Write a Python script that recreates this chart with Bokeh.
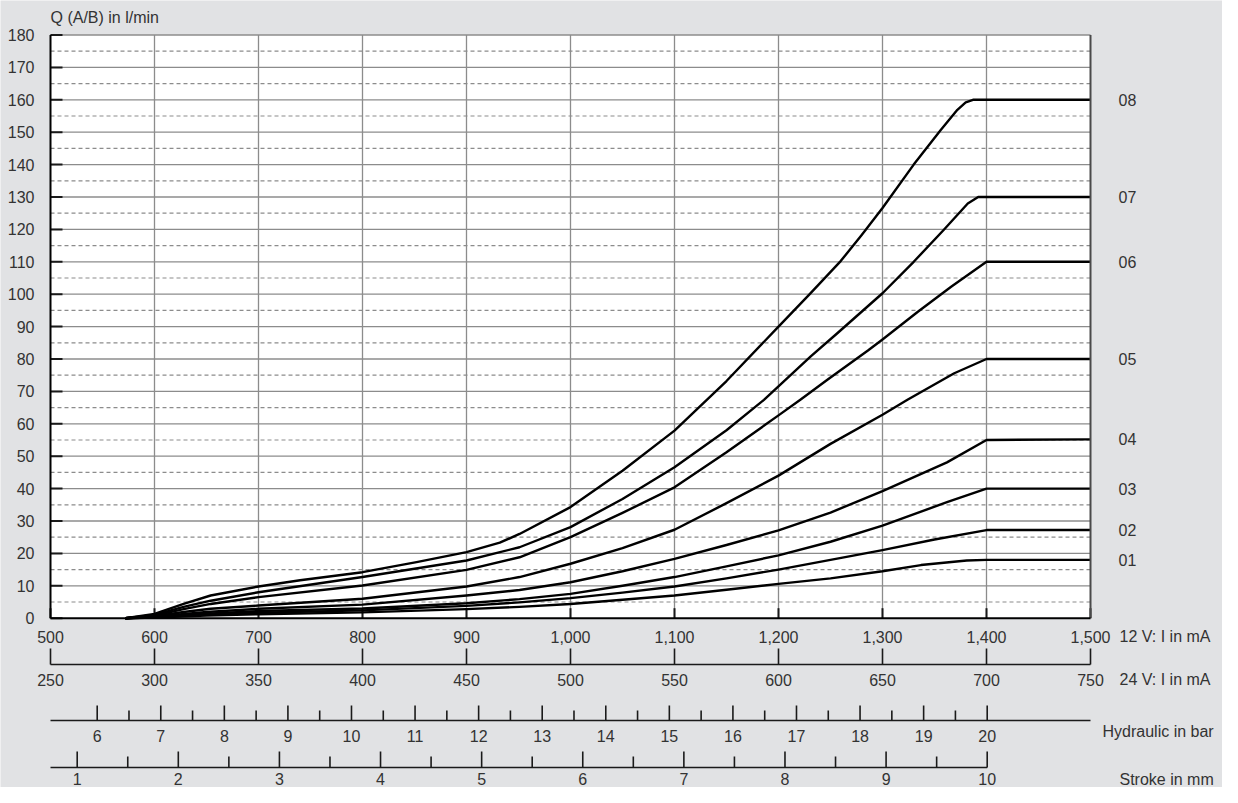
from bokeh.plotting import figure
from bokeh.models import Range1d
from bokeh.core.properties import value
from bokeh.embed import file_html
from bokeh.resources import INLINE

# ---------------- data ----------------
# x: coil current at 12 V in mA, y: flow Q (A/B) in l/min
I_08 = [572, 600, 628, 654, 700, 740, 800, 852, 900, 932, 951, 1000, 1050, 1100, 1150, 1200, 1230, 1260, 1280, 1300, 1330, 1356, 1372, 1380, 1387, 1500]
Q_08 = [0, 1.3, 4.4, 7.0, 9.8, 11.7, 14.2, 17.3, 20.4, 23.3, 26.0, 34.3, 45.5, 57.9, 73.2, 90.0, 100.0, 110.3, 118.3, 126.6, 140.0, 150.7, 156.9, 159.2, 160, 160]

I_07 = [572, 600, 628, 654, 700, 800, 900, 951, 1000, 1050, 1100, 1150, 1186, 1231, 1256, 1300, 1330, 1359, 1382, 1392, 1500]
Q_07 = [0, 1.0, 3.5, 5.4, 8.0, 12.7, 17.8, 21.9, 28.1, 36.8, 46.6, 58.0, 67.4, 80.8, 87.8, 100.3, 110.0, 119.9, 128.0, 130.0, 130]

I_06 = [572, 600, 628, 654, 700, 800, 900, 951, 1000, 1050, 1100, 1150, 1200, 1221, 1247, 1286, 1300, 1334, 1366, 1400, 1500]
Q_06 = [0, 0.8, 2.8, 4.4, 6.5, 10.1, 14.9, 18.8, 25.0, 32.5, 40.4, 51.2, 62.6, 67.4, 73.6, 82.6, 86.0, 94.6, 102.3, 110.0, 110]

I_05 = [572, 600, 628, 654, 700, 800, 900, 951, 1000, 1050, 1100, 1150, 1200, 1250, 1300, 1324, 1369, 1400, 1500]
Q_05 = [0, 0.6, 1.9, 2.9, 3.9, 6.0, 9.8, 12.7, 16.8, 21.6, 27.3, 35.5, 44.0, 53.8, 62.8, 67.4, 75.6, 80.0, 80]

I_04 = [572, 600, 650, 700, 800, 900, 951, 1000, 1050, 1100, 1150, 1200, 1250, 1300, 1362, 1400, 1500]
Q_04 = [0, 0.5, 1.9, 2.9, 4.2, 7.0, 8.7, 11.1, 14.5, 18.3, 22.6, 27.1, 32.6, 39.2, 48.1, 55.0, 55.2]

I_03 = [572, 600, 650, 700, 800, 900, 951, 1000, 1050, 1100, 1150, 1200, 1250, 1300, 1362, 1400, 1500]
Q_03 = [0, 0.4, 1.4, 2.2, 3.0, 4.6, 5.9, 7.5, 10.0, 12.7, 16.0, 19.4, 23.6, 28.6, 35.8, 40.0, 40.0]

I_02 = [572, 600, 650, 700, 800, 900, 951, 1000, 1050, 1100, 1150, 1200, 1250, 1300, 1350, 1400, 1500]
Q_02 = [0, 0.3, 1.1, 1.7, 2.4, 3.8, 4.9, 6.2, 7.9, 9.8, 12.3, 15.0, 18.0, 21.0, 24.3, 27.2, 27.2]

I_01 = [572, 600, 650, 700, 800, 900, 951, 1000, 1050, 1100, 1150, 1200, 1250, 1300, 1337, 1381, 1400, 1500]
Q_01 = [0, 0.2, 0.8, 1.2, 1.8, 2.8, 3.5, 4.4, 5.7, 7.0, 8.8, 10.6, 12.3, 14.5, 16.4, 17.8, 18.0, 18.0]

SERIES_NAMES = ["08", "07", "06", "05", "04", "03", "02", "01"]

Y_TICKS = list(range(0, 181, 10))           # Q in l/min
Y_DASH = list(range(5, 180, 10))            # dashed half lines
X12_TICKS = list(range(500, 1501, 100))     # 12 V: I in mA
X24_TICKS = list(range(250, 751, 50))       # 24 V: I in mA
BAR_MAJOR = list(range(6, 21))              # hydraulic in bar
BAR_MINOR = [b + 0.5 for b in range(6, 20)]
STROKE_MAJOR = list(range(1, 11))           # stroke in mm
STROKE_MINOR = [s + 0.5 for s in range(1, 10)]

TITLE = "Q (A/B) in l/min"
SCALE_LABELS = ["12 V: I in mA", "24 V: I in mA", "Hydraulic in bar", "Stroke in mm"]

# ---------------- layout (figure pixels) ----------------
W, H = 1222, 787
L, R, T, B = 50.0, 1090.0, 34.5, 617.7          # plot area
BAR6_PX, BAR20_PX = 96.7, 986.7
STK1_PX, STK10_PX = 76.7, 986.7
LABEL_X = 1118
NAME_X = [1119, 1119, 1102, 1119]
Y12_LAB = 636
Y24_LINE, Y24_TICK, Y24_LAB = 664, 648, 679
YBAR_LINE, YBAR_MAJ, YBAR_MIN, YBAR_LAB, YBAR_NAME = 720, 705, 710, 735, 731
YSTK_LINE, YSTK_MAJ, YSTK_MIN, YSTK_LAB = 767, 751, 756, 778.5
FONT = value("Liberation Sans")
FS = "16px"
TXT = "#333333"
BG = "#e1e2e4"
GRID = "#8c8c8c"
INK = "#1a1a1a"

x_lo, x_hi = X12_TICKS[0], X12_TICKS[-1]
y_lo, y_hi = Y_TICKS[0], Y_TICKS[-1]
mx = (x_hi - x_lo) / (R - L)          # mA per px
my = (y_hi - y_lo) / (B - T)          # l/min per px

p = figure(width=W, height=H, output_backend="svg", toolbar_location=None,
           x_range=Range1d(x_lo - L * mx, x_hi + (W - R) * mx),
           y_range=Range1d(y_lo - (H - B) * my, y_hi + T * my),
           x_axis_location=None, y_axis_location=None, title_location=None,
           min_border=0, min_border_left=0, min_border_right=0,
           min_border_top=0, min_border_bottom=0,
           background_fill_color=BG, border_fill_color=BG,
           outline_line_color=None)
p.xgrid.visible = False
p.ygrid.visible = False

xr = p.x_range
v24_ratio = (X24_TICKS[-1] - X24_TICKS[0]) / (x_hi - x_lo)
bar_k = (BAR_MAJOR[-1] - BAR_MAJOR[0]) / (BAR20_PX - BAR6_PX)
stk_k = (STROKE_MAJOR[-1] - STROKE_MAJOR[0]) / (STK10_PX - STK1_PX)
p.extra_x_ranges = {
    "px": Range1d(0, W),
    "v24": Range1d(X24_TICKS[0] + (xr.start - x_lo) * v24_ratio,
                   X24_TICKS[0] + (xr.end - x_lo) * v24_ratio),
    "bar": Range1d(BAR_MAJOR[0] - BAR6_PX * bar_k, BAR_MAJOR[-1] + (W - BAR20_PX) * bar_k),
    "stroke": Range1d(STROKE_MAJOR[0] - STK1_PX * stk_k, STROKE_MAJOR[-1] + (W - STK10_PX) * stk_k),
}
p.extra_y_ranges = {"px": Range1d(H, 0)}

# plot area
p.quad(left=[x_lo], right=[x_hi], bottom=[y_lo], top=[y_hi], fill_color="white", line_color=None)
p.segment(x0=x_lo, x1=x_hi, y0=Y_DASH, y1=Y_DASH, line_color=GRID, line_width=1.2, line_dash="4 3")
p.segment(x0=x_lo, x1=x_hi, y0=Y_TICKS[1:], y1=Y_TICKS[1:], line_color=GRID, line_width=1.3)
p.segment(x0=X12_TICKS[1:-1], x1=X12_TICKS[1:-1], y0=y_lo, y1=y_hi, line_color=GRID, line_width=1.3)

# inward ticks
p.segment(x0=x_lo, x1=x_lo + 12 * mx, y0=Y_TICKS, y1=Y_TICKS, line_color=INK, line_width=2)
p.segment(x0=X12_TICKS, x1=X12_TICKS, y0=y_lo, y1=y_lo + 10 * my, line_color=INK, line_width=2)

# curves
series = {"08": (I_08, Q_08), "07": (I_07, Q_07), "06": (I_06, Q_06), "05": (I_05, Q_05),
          "04": (I_04, Q_04), "03": (I_03, Q_03), "02": (I_02, Q_02), "01": (I_01, Q_01)}
for name in SERIES_NAMES:
    xs, ys = series[name]
    p.line(xs, ys, line_color="black", line_width=2.4, line_join="round")

# frame
p.segment(x0=[x_lo], x1=[x_lo], y0=[y_lo], y1=[y_hi], line_color="black", line_width=2)
p.segment(x0=[x_hi], x1=[x_hi], y0=[y_lo], y1=[y_hi], line_color="#4a4a4a", line_width=2)
p.segment(x0=[x_lo], x1=[x_hi], y0=[y_lo], y1=[y_lo], line_color="black", line_width=2)

txt = dict(text_font=FONT, text_font_size=FS, text_color=TXT, text_baseline="middle")

# y tick labels and title
p.text(x=[L - 16] * len(Y_TICKS), y=Y_TICKS, text=[str(v) for v in Y_TICKS], x_range_name="px",
       text_align="right", **txt)
p.text(x=[L], y=[17], text=[TITLE], x_range_name="px", y_range_name="px", text_align="left", **txt)

# curve labels on the right
p.text(x=[LABEL_X] * len(SERIES_NAMES), y=[series[n][1][-1] for n in SERIES_NAMES], text=SERIES_NAMES,
       x_range_name="px", text_align="left", **txt)

# 12 V scale labels
p.text(x=X12_TICKS, y=[Y12_LAB] * len(X12_TICKS), text=[f"{v:,}" for v in X12_TICKS], y_range_name="px",
       text_align="center", **txt)

# 24 V scale
p.segment(x0=[L], x1=[R], y0=[Y24_LINE], y1=[Y24_LINE], x_range_name="px", y_range_name="px", line_color=INK, line_width=1.6)
p.segment(x0=X24_TICKS, x1=X24_TICKS, y0=Y24_TICK, y1=Y24_LINE, x_range_name="v24", y_range_name="px", line_color=INK, line_width=1.6)
p.text(x=X24_TICKS, y=[Y24_LAB] * len(X24_TICKS), text=[str(v) for v in X24_TICKS], x_range_name="v24", y_range_name="px",
       text_align="center", **txt)

# hydraulic scale
p.segment(x0=[L], x1=[R], y0=[YBAR_LINE], y1=[YBAR_LINE], x_range_name="px", y_range_name="px", line_color=INK, line_width=1.6)
p.segment(x0=BAR_MAJOR, x1=BAR_MAJOR, y0=YBAR_MAJ, y1=YBAR_LINE, x_range_name="bar", y_range_name="px", line_color=INK, line_width=1.6)
p.segment(x0=BAR_MINOR, x1=BAR_MINOR, y0=YBAR_MIN, y1=YBAR_LINE, x_range_name="bar", y_range_name="px", line_color=INK, line_width=1.6)
p.text(x=BAR_MAJOR, y=[YBAR_LAB] * len(BAR_MAJOR), text=[str(v) for v in BAR_MAJOR], x_range_name="bar", y_range_name="px",
       text_align="center", **txt)

# stroke scale
p.segment(x0=[L], x1=[STK10_PX], y0=[YSTK_LINE], y1=[YSTK_LINE], x_range_name="px", y_range_name="px", line_color=INK, line_width=1.6)
p.segment(x0=STROKE_MAJOR, x1=STROKE_MAJOR, y0=YSTK_MAJ, y1=YSTK_LINE, x_range_name="stroke", y_range_name="px", line_color=INK, line_width=1.6)
p.segment(x0=STROKE_MINOR, x1=STROKE_MINOR, y0=YSTK_MIN, y1=YSTK_LINE, x_range_name="stroke", y_range_name="px", line_color=INK, line_width=1.6)
p.text(x=STROKE_MAJOR, y=[YSTK_LAB] * len(STROKE_MAJOR), text=[str(v) for v in STROKE_MAJOR], x_range_name="stroke", y_range_name="px",
       text_align="center", **txt)

# scale names on the right
p.text(x=NAME_X, y=[Y12_LAB, Y24_LAB, YBAR_NAME, YSTK_LAB], text=SCALE_LABELS, x_range_name="px", y_range_name="px",
       text_align="left", **txt)

open("out.html", "w").write(file_html(p, INLINE))
